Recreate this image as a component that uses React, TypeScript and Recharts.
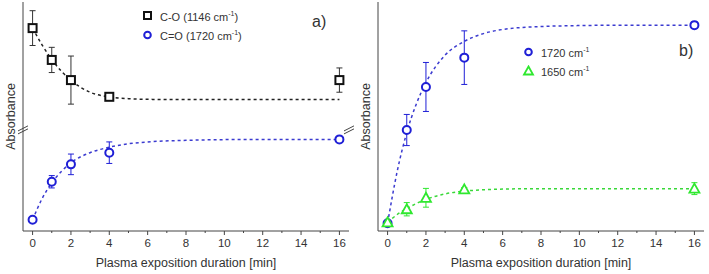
import React from "react";
import {
  ComposedChart,
  ErrorBar,
  Legend,
  Line,
  ReferenceLine,
  Scatter,
  XAxis,
  YAxis,
} from "recharts";

// measured sampling times [min]
const minutes = [0, 1, 2, 4, 16];

// panel a) absorbance, arbitrary units (axis is broken, no ticks)
const coAbs = [88.6, 74.7, 65.9, 58.6, 65.9];
const coErr = [7.6, 5.5, 10.5, 0.6, 5.3];
const coFitX = [0, 0.5, 1, 1.5, 2, 3, 4, 5, 6, 8, 10, 12, 14, 16];
const coFit = [88.6, 81.2, 74.9, 69.8, 65.8, 60.6, 58.5, 57.8, 57.5, 57.4, 57.4, 57.4, 57.4, 57.4];

const ccoAbsA = [4.9, 21.5, 29.1, 34.2, 40.0];
const ccoErrA = [0.6, 2.7, 4.5, 4.7, 0.5];
const ccoFitXA = [0, 0.5, 1, 1.5, 2, 3, 4, 5, 6, 8, 10, 12, 14, 16];
const ccoFitA = [4.9, 14.2, 21.0, 26.0, 29.8, 34.2, 36.6, 38.1, 38.9, 39.6, 39.9, 40.0, 40.0, 40.0];

// panel b)
const b1720 = [3.4, 44.1, 62.9, 75.7, 89.9];
const b1720Err = [0.6, 6.8, 10.7, 11.7, 1.5];
const b1720FitX = [0, 0.5, 1, 1.5, 2, 3, 4, 5, 6, 8, 10, 12, 14, 16];
const b1720Fit = [3.4, 26.0, 43.0, 55.5, 64.8, 76.8, 82.8, 86.2, 88.0, 89.3, 89.7, 89.9, 89.9, 89.9];

const b1650 = [3.8, 9.5, 14.5, 18.2, 18.5];
const b1650Err = [0.6, 2.9, 4.1, 0.8, 2.6];
const b1650FitX = [0, 0.5, 1, 1.5, 2, 3, 4, 5, 6, 8, 10, 12, 14, 16];
const b1650Fit = [3.8, 7.2, 9.8, 12.0, 13.8, 16.2, 17.4, 18.0, 18.3, 18.5, 18.5, 18.5, 18.5, 18.5];

const allTicks = Array.from({ length: 17 }, (_, i) => i);

const FONT = "'Liberation Sans', Arial, sans-serif";
const AXIS = "#444";
const TXT = "#333";
const BLUE = "#1f1fd6";
const BLUE_FIT = "#3b3bd0";
const GREEN = "#2ee82e";
const GREEN_FIT = "#39d839";

const pts = (ys: number[], errs: number[]) => minutes.map((x, i) => ({ x, y: ys[i], err: errs[i] }));
const fit = (xs: number[], ys: number[]) => xs.map((x, i) => ({ x, y: ys[i] }));

const Square = (color: string) => (p: any) => (
  <rect x={p.cx - 4} y={p.cy - 4} width={8} height={8} fill="#fff" stroke={color} strokeWidth={2} />
);
const Circle = (color: string) => (p: any) => (
  <circle cx={p.cx} cy={p.cy} r={4} fill="#fff" stroke={color} strokeWidth={2} />
);
const Triangle = (color: string) => (p: any) => (
  <path
    d={`M${p.cx},${p.cy - 5} L${p.cx + 5},${p.cy + 4} L${p.cx - 5},${p.cy + 4} Z`}
    fill="#fff"
    stroke={color}
    strokeWidth={1.8}
  />
);

// bottom ticks: long ones with labels on even minutes, short minor ones in between
const TickMark = (p: any) => {
  const v = p.payload.value;
  const major = v % 2 === 0;
  return (
    <g>
      <line x1={p.x} x2={p.x} y1={p.y} y2={p.y + (major ? 4 : 2)} stroke={AXIS} />
      {major && (
        <text x={p.x} y={p.y + 16} textAnchor="middle" fontSize={11.5} fill={TXT} fontFamily={FONT}>
          {v}
        </text>
      )}
    </g>
  );
};

type Item = { pre: string; post: string; marker: React.ReactNode };

const LegendBox = ({ items }: { items: Item[] }) => (
  <div style={{ fontFamily: FONT, fontSize: 11, color: TXT, lineHeight: "15px" }}>
    {items.map((it, i) => (
      <div key={i} style={{ display: "flex", alignItems: "center" }}>
        <svg width={16} height={12} style={{ marginRight: 4 }}>
          {it.marker}
        </svg>
        <span>
          {it.pre}cm<sup style={{ fontSize: 7, verticalAlign: 5 }}>-1</sup>
          {it.post}
        </span>
      </div>
    ))}
  </div>
);

function Panel({ tag, tagPos, children, legend, legendPos }: any) {
  return (
    <ComposedChart width={355} height={274} margin={{ top: 2, right: 6, bottom: 0, left: 0 }}>
      <XAxis
        dataKey="x"
        type="number"
        domain={[-0.5, 16.5]}
        ticks={allTicks}
        interval={0}
        tick={<TickMark />}
        tickLine={false}
        tickSize={0}
        tickMargin={0}
        height={43}
        stroke={AXIS}
        allowDataOverflow
        label={{ value: "Plasma exposition duration [min]", position: "insideBottom", offset: 7, fill: TXT, fontSize: 12.5, fontFamily: FONT }}
      />
      <YAxis
        dataKey="y"
        type="number"
        domain={[0, 100]}
        width={23}
        tick={false}
        tickLine={false}
        stroke={AXIS}
        label={{ value: "Absorbance", angle: -90, position: "center", dx: -1, fill: TXT, fontSize: 12.5, fontFamily: FONT }}
      />
      <XAxis xAxisId="top" orientation="top" type="number" domain={[-0.5, 16.5]} height={0} tick={false} tickLine={false} stroke={AXIS} />
      <YAxis yAxisId="r" orientation="right" type="number" domain={[0, 100]} width={0} tick={false} tickLine={false} stroke={AXIS} />
      {children}
      <Legend
        layout="horizontal"
        verticalAlign="middle"
        align="center"
        wrapperStyle={{ position: "absolute", ...legendPos, width: "auto" }}
        content={() => <LegendBox items={legend} />}
      />
      <text x={tagPos.x} y={tagPos.y} fontSize={16} fill={TXT} fontFamily={FONT}>
        {tag}
      </text>
    </ComposedChart>
  );
}

// "//" axis-break marks on the frame of panel a)
const breakMarks = (xc: number, dx: number) => [
  <ReferenceLine key={`g${xc}`} ifOverflow="visible" stroke="#fff" strokeWidth={4} segment={[{ x: xc, y: 44.9 }, { x: xc, y: 43.4 }]} />,
  <ReferenceLine key={`a${xc}`} ifOverflow="visible" stroke={AXIS} segment={[{ x: xc - dx, y: 43.7 }, { x: xc + dx, y: 45.9 }]} />,
  <ReferenceLine key={`b${xc}`} ifOverflow="visible" stroke={AXIS} segment={[{ x: xc - dx, y: 42.4 }, { x: xc + dx, y: 44.6 }]} />,
];

export default function App() {
  return (
    <div style={{ position: "absolute", left: 0, top: 0, width: 709, height: 274, background: "#fff", display: "flex" }}>
      <Panel
        tag="a)"
        tagPos={{ x: 312, y: 27 }}
        legendPos={{ left: 140, top: 6 }}
        legend={[
          { pre: "C-O (1146 ", post: ")", marker: <rect x={4} y={2} width={7} height={7} fill="#fff" stroke="#111" strokeWidth={2} /> },
          { pre: "C=O (1720 ", post: ")", marker: <circle cx={7.5} cy={6} r={3.3} fill="#fff" stroke={BLUE} strokeWidth={2} /> },
        ]}
      >
        {breakMarks(-0.5, 0.26)}
        {breakMarks(16.5, 0.26)}
        <Line data={fit(coFitX, coFit)} dataKey="y" type="monotone" stroke="#222" strokeWidth={1.5} strokeDasharray="3 3" dot={false} isAnimationActive={false} />
        <Line data={fit(ccoFitXA, ccoFitA)} dataKey="y" type="monotone" stroke={BLUE_FIT} strokeWidth={1.5} strokeDasharray="3 3" dot={false} isAnimationActive={false} />
        <Scatter data={pts(coAbs, coErr)} dataKey="y" shape={Square("#111")} isAnimationActive={false}>
          <ErrorBar dataKey="err" direction="y" width={3} stroke="#333" strokeWidth={1} />
        </Scatter>
        <Scatter data={pts(ccoAbsA, ccoErrA)} dataKey="y" shape={Circle(BLUE)} isAnimationActive={false}>
          <ErrorBar dataKey="err" direction="y" width={3} stroke={BLUE} strokeWidth={1} />
        </Scatter>
      </Panel>
      <div style={{ width: 354, height: 274, overflow: "hidden" }}>
        <Panel
          tag="b)"
          tagPos={{ x: 324, y: 56 }}
          legendPos={{ left: 166, top: 42 }}
          legend={[
            { pre: "1720 ", post: "", marker: <circle cx={7.5} cy={6} r={3.3} fill="#fff" stroke={BLUE} strokeWidth={2} /> },
            { pre: "1650 ", post: "", marker: <path d="M7.5,1.5 L12,9.5 L3,9.5 Z" fill="#fff" stroke={GREEN} strokeWidth={1.8} /> },
          ]}
        >
          <Line data={fit(b1720FitX, b1720Fit)} dataKey="y" type="monotone" stroke={BLUE_FIT} strokeWidth={1.5} strokeDasharray="3 3" dot={false} isAnimationActive={false} />
          <Line data={fit(b1650FitX, b1650Fit)} dataKey="y" type="monotone" stroke={GREEN_FIT} strokeWidth={1.5} strokeDasharray="3 3" dot={false} isAnimationActive={false} />
          <Scatter data={pts(b1720, b1720Err)} dataKey="y" shape={Circle(BLUE)} isAnimationActive={false}>
            <ErrorBar dataKey="err" direction="y" width={3} stroke={BLUE} strokeWidth={1} />
          </Scatter>
          <Scatter data={pts(b1650, b1650Err)} dataKey="y" shape={Triangle(GREEN)} isAnimationActive={false}>
            <ErrorBar dataKey="err" direction="y" width={3} stroke={GREEN} strokeWidth={1} />
          </Scatter>
        </Panel>
      </div>
    </div>
  );
}
